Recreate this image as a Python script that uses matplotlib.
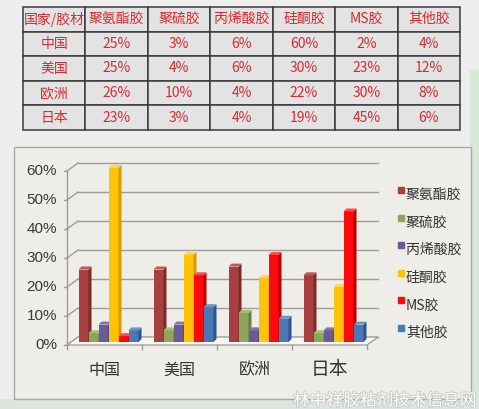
import matplotlib
matplotlib.use("Agg")
import matplotlib.pyplot as plt
from matplotlib.patches import Rectangle, Polygon
import matplotlib.patheffects as pe

plt.rcParams['font.family'] = ['Noto Sans CJK SC', 'DejaVu Sans']

# ---- data -------------------------------------------------------------
countries = ['中国', '美国', '欧洲', '日本']
adhesives = ['聚氨酯胶', '聚硫胶', '丙烯酸胶', '硅酮胶', 'MS胶', '其他胶']
header_corner = '国家/胶材'

polyurethane = [25, 25, 26, 23]
polysulfide = [3, 4, 10, 3]
acrylic = [6, 6, 4, 4]
silicone = [60, 30, 22, 19]
ms_polymer = [2, 23, 30, 45]
others = [4, 12, 8, 6]

y_ticks = [0, 10, 20, 30, 40, 50, 60]

series = [polyurethane, polysulfide, acrylic, silicone, ms_polymer, others]

# front / side / top shades for each series
shades = [
    ('#a8403f', '#7a2b2b', '#bf5959'),
    ('#8ea65a', '#69803e', '#a6bb74'),
    ('#6c5a96', '#4c3e70', '#8573aa'),
    ('#ffc10a', '#d89a00', '#ffd54f'),
    ('#fa0a0a', '#bd0000', '#ff4a4a'),
    ('#4a78b5', '#2e5587', '#6c93c9'),
]

# ---- figure -----------------------------------------------------------
W, H = 479, 409
fig = plt.figure(figsize=(W / 100, H / 100), dpi=100)


def box(x0, y0, x1, y1):
    return [x0 / W, 1 - y1 / H, (x1 - x0) / W, (y1 - y0) / H]


# background layer in pixel coordinates
bg = fig.add_axes([0, 0, 1, 1])
bg.set_xlim(0, W)
bg.set_ylim(H, 0)
bg.axis('off')
bg.add_patch(Rectangle((0, 0), W, H, color='#eeeeee', zorder=0))
bg.add_patch(Rectangle((470, 70), 9, H - 70, color='#d9e9d9', zorder=0.1))
bg.add_patch(Rectangle((0, 399), W, 10, color='#dce6dd', zorder=0.1))
bg.add_patch(Rectangle((14, 147), 457, 252, facecolor='#efede7',
                       edgecolor='#a8a8a8', lw=1.0, zorder=0.2))

# ---- table ------------------------------------------------------------
tax = fig.add_axes(box(23, 7, 460, 130))
tax.axis('off')
rows = [[header_corner] + adhesives]
for i, c in enumerate(countries):
    rows.append([c] + [f'{s[i]}%' for s in series])
tbl = tax.table(cellText=rows, cellLoc='center', bbox=[0, 0, 1, 1])
tbl.auto_set_font_size(False)
tbl.set_fontsize(10)
for (r, c), cell in tbl.get_celld().items():
    cell.set_facecolor('#e3e3e3')
    cell.set_edgecolor('#3a3a3a')
    cell.set_linewidth(1.1)
    cell.PAD = 0.02
    cell.get_text().set_color('#d62b30')

# ---- 3D-style clustered column chart ---------------------------------
ax = fig.add_axes(box(71, 168, 371, 342))
ax.set_xlim(0, len(countries))
ax.set_ylim(0, 60)
ax.axis('off')

PX = 300 / len(countries)      # pixels per category
PY = 174 / 60                  # pixels per percent


def off(dx, dy):
    return dx / PX, dy / PY


bdx, bdy = off(7, 5)     # back wall
fdx, fdy = off(-4, -3)   # front edge of floor
ddx, ddy = off(3, 3)     # bar depth
grid_col = '#9c9c9c'
n = len(countries)

# floor
ax.add_patch(Polygon([(fdx, fdy), (n + fdx, fdy), (n + bdx, bdy), (bdx, bdy)],
                     closed=True, facecolor='#f6f6f2', edgecolor=grid_col,
                     lw=0.9, zorder=0.6, clip_on=False))

# wall gridlines, side-wall diagonals, y ticks and labels
for v in y_ticks:
    ax.plot([bdx, n + bdx], [v + bdy, v + bdy], color=grid_col, lw=1.0,
            zorder=0.5, clip_on=False)
    ax.plot([fdx, bdx], [v + fdy, v + bdy], color=grid_col, lw=1.0,
            zorder=0.5, clip_on=False)
    ax.plot([fdx - 3 / PX, fdx], [v + fdy, v + fdy], color=grid_col, lw=1.0,
            zorder=0.5, clip_on=False)
    ax.text(fdx - 10 / PX, v + fdy, f'{v}%', ha='right', va='center',
            fontsize=11, color='#3a3a3a', family=['Liberation Sans'])

# left axis line
ax.plot([fdx, fdx], [fdy, 60 + fdy], color=grid_col, lw=1.0, zorder=0.5,
        clip_on=False)

# category ticks and labels
for i in range(n + 1):
    ax.plot([i + fdx, i + fdx], [fdy, fdy - 4 / PY], color=grid_col, lw=1.0,
            clip_on=False)
label_sizes = [11.5, 11.5, 11.5, 13.5]
for i, c in enumerate(countries):
    ax.text(i + 0.5 + fdx, -28 / PY, c, ha='center', va='center',
            fontsize=label_sizes[i], color='#333333')

# bars
w = 0.8 / len(series)
for j, (vals, (fc, sc, tc)) in enumerate(zip(series, shades)):
    xs = [i + 0.1 + w * (j + 0.5) for i in range(n)]
    bars = ax.bar(xs, vals, width=w, color=fc, lw=0, zorder=2 + j)
    for rect in bars:
        x0 = rect.get_x()
        x1 = x0 + rect.get_width()
        h = rect.get_height()
        ax.add_patch(Polygon([(x1, 0), (x1 + ddx, ddy), (x1 + ddx, h + ddy), (x1, h)],
                             closed=True, color=sc, lw=0, zorder=2 + j,
                             clip_on=False))
        ax.add_patch(Polygon([(x0, h), (x1, h), (x1 + ddx, h + ddy), (x0 + ddx, h + ddy)],
                             closed=True, color=tc, lw=0, zorder=2 + j,
                             clip_on=False))

# legend
for j, (name, (fc, sc, tc)) in enumerate(zip(adhesives, shades)):
    y = 195 + 27.6 * j
    bg.add_patch(Rectangle((398, y - 8), 6, 6, color=fc, zorder=3))
    bg.text(406, y, name, ha='left', va='center', fontsize=10,
            color='#333333', zorder=3)

# watermark
bg.text(476, 401, '林中祥胶粘剂技术信息网', ha='right', va='center',
        fontsize=12, color='white', zorder=5,
        path_effects=[pe.withStroke(linewidth=1.2, foreground='#c4c8c4')])

fig.savefig('out.png', dpi=100)
